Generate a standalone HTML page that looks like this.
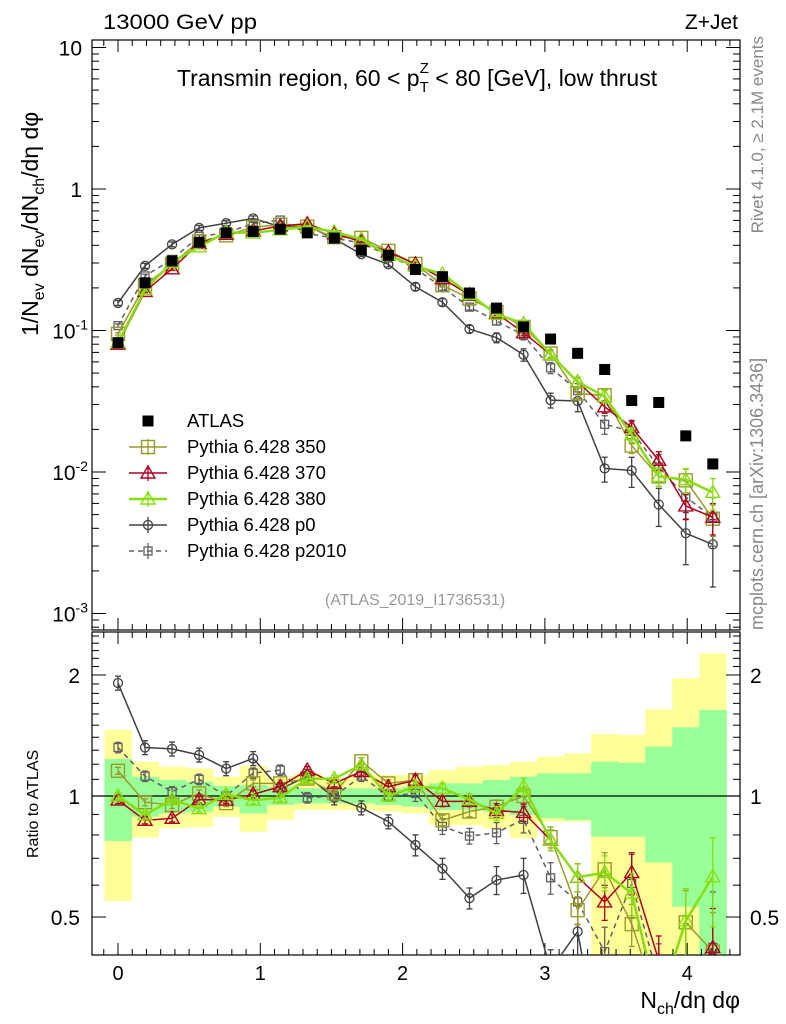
<!DOCTYPE html>
<html><head><meta charset="utf-8"><style>
html,body{margin:0;padding:0;background:#fff;width:786px;height:1024px;overflow:hidden;position:relative;}
svg{display:block;font-family:"Liberation Sans",sans-serif;}
</style></head><body>
<svg id="c" width="786" height="1024" viewBox="0 0 786 1024" xmlns="http://www.w3.org/2000/svg" style="position:absolute;left:0;top:0"></svg>
<script>
// ---- data ----
const xCats = [0,0.19,0.38,0.57,0.76,0.95,1.14,1.33,1.52,1.71,1.9,2.09,2.28,2.47,2.66,2.85,3.04,3.23,3.42,3.61,3.8,3.99,4.18];
const atlasVals = [0.082,0.217,0.31,0.42,0.49,0.5,0.52,0.49,0.45,0.37,0.34,0.27,0.24,0.184,0.144,0.106,0.087,0.069,0.053,0.032,0.031,0.018,0.0114];
const ratio350 = [1.155,0.965,0.95,1.015,0.96,1.075,1.075,1.105,1.015,1.22,1.075,1.095,0.87,0.915,0.94,1.0,0.79,0.52,0.657,0.48,0.30,0.485,0.41];
const ratio370 = [0.977,0.87,0.88,0.98,0.977,1.01,1.055,1.16,1.075,1.15,1.055,1.095,0.97,0.97,0.92,0.91,0.777,0.628,0.545,0.645,0.39,0.32,0.42];
const ratio380 = [1.0,0.897,0.98,0.93,1.01,0.977,0.99,1.105,1.105,1.195,1.0,1.055,1.045,0.98,0.905,1.055,0.777,0.628,0.645,0.573,0.30,0.49,0.63];
const ratioP0 = [1.91,1.32,1.31,1.265,1.17,1.24,1.04,1.12,0.99,0.935,0.863,0.755,0.66,0.557,0.618,0.636,0.37,0.46,0.2,0.32,0.19,0.205,0.27];
const ratioP2010 = [1.32,1.12,1.025,1.10,1.0,1.14,1.16,0.99,1.0,1.12,1.0,1.015,0.84,0.795,0.81,0.875,0.626,0.545,0.41,0.606,0.35,0.37,0.42];
const relErr = [0.02,0.02,0.02,0.02,0.02,0.02,0.02,0.02,0.02,0.02,0.02,0.03,0.03,0.03,0.04,0.05,0.06,0.08,0.1,0.12,0.15,0.2,0.25];
const yellowHi = [1.46,1.217,1.183,1.172,1.117,1.188,1.117,1.139,1.107,1.128,1.128,1.128,1.16,1.183,1.194,1.217,1.252,1.277,1.427,1.419,1.643,1.963,2.264];
const yellowLo = [0.548,0.788,0.831,0.836,0.888,0.815,0.872,0.923,0.923,0.923,0.914,0.905,0.847,0.847,0.831,0.785,0.863,0.863,0.3,0.3,0.3,0.3,0.3];
const greenHi = [1.236,1.117,1.096,1.085,1.059,1.065,1.055,1.045,1.045,1.045,1.045,1.055,1.075,1.075,1.096,1.117,1.139,1.139,1.217,1.21,1.327,1.482,1.637];
const greenLo = [0.773,0.888,0.905,0.914,0.941,0.905,0.95,0.959,0.959,0.959,0.95,0.941,0.923,0.923,0.914,0.897,0.88,0.872,0.792,0.792,0.683,0.53,0.3];
const mainTicks = [10,1,0.1,0.01,0.001];
const mainTickLabels = ["10","1","10^-1","10^-2","10^-3"];
const xTicks = [0,1,2,3,4];
const ratioTicks = [2,1,0.5];

// ---- geometry ----
const L=92,R=740,MT=40,MB=630,RT=632,RB=955;
const X0=118,XS=142.3;
function sx(v){return X0+XS*v;}
function sy(v){return 189-141.5*Math.log10(v);}
function ry(v){return 796-402*Math.log10(v);}
const svg=document.getElementById('c');
const NS="http://www.w3.org/2000/svg";
function el(tag,attrs,parent){const e=document.createElementNS(NS,tag);for(const k in attrs)e.setAttribute(k,attrs[k]);(parent||svg).appendChild(e);return e;}

const defs=el('defs',{});
const c1=el('clipPath',{id:'cm'},defs);el('rect',{x:L,y:MT,width:R-L,height:MB-MT},c1);
const c2=el('clipPath',{id:'cr'},defs);el('rect',{x:L,y:RT,width:R-L,height:RB-RT},c2);

const bandG=el('g',{'clip-path':'url(#cr)'});


const hw=0.095;
xCats.forEach((x,i)=>{
  const y1=el('rect',{x:sx(x-hw),y:ry(yellowHi[i]),width:XS*2*hw+0.5,height:ry(yellowLo[i])-ry(yellowHi[i]),fill:'#ffff99'},bandG);
  
  
});
xCats.forEach((x,i)=>{
  const g1=el('rect',{x:sx(x-hw),y:ry(greenHi[i]),width:XS*2*hw+0.5,height:ry(greenLo[i])-ry(greenHi[i]),fill:'#99ff99'},bandG);
  
  
});
el('line',{x1:L,x2:R,y1:ry(1),y2:ry(1),stroke:'#000','stroke-width':1.2});

const f1=el('rect',{x:L,y:MT,width:R-L,height:MB-MT,fill:'none',stroke:'#000','stroke-width':1.2});


const f2=el('rect',{x:L,y:RT,width:R-L,height:RB-RT,fill:'none',stroke:'#000','stroke-width':1.2});



for(let k=-1;k<=43;k++){
  const v=k/10; if(sx(v)<L||sx(v)>R) continue;
  const major=(k%10===0); const len=major?12:6;
  [[MB,-1],[MT,1],[RB,-1],[RT,1]].forEach(([y,d])=>{
    el('line',{x1:sx(v),x2:sx(v),y1:y,y2:y+d*len,stroke:'#000','stroke-width':1});
  });
}
xTicks.forEach(v=>{
  const t=el('text',{x:sx(v),y:980,'font-size':20,'text-anchor':'middle'});t.textContent=String(v);
  
  
});
for(let e=-4;e<=1;e++){
  for(let m=1;m<10;m++){
    const v=m*Math.pow(10,e); const y=sy(v); if(y<MT||y>MB) continue;
    const len=m===1?14:7;
    el('line',{x1:L,x2:L+len,y1:y,y2:y,stroke:'#000'});
    el('line',{x1:R,x2:R-len,y1:y,y2:y,stroke:'#000'});
  }
}
mainTicks.forEach((v,i)=>{
  const lab=mainTickLabels[i];
  const t=el('text',{x:82,y:sy(v)+8,'font-size':21,'text-anchor':'end'});
  
  
  if(lab.indexOf('^')>=0){const p=lab.split('^');t.textContent=p[0];const s=el('tspan',{dy:-9,'font-size':14},t);s.textContent=p[1];t.setAttribute('x',88);}
  else t.textContent=lab;
});
for(let v=0.4;v<=2.6;v+=0.1){
  const y=ry(v); if(y<RT||y>RB) continue;
  const major=[0.5,1,2].some(q=>Math.abs(q-v)<0.001);
  const len=major?14:7;
  el('line',{x1:L,x2:L+len,y1:y,y2:y,stroke:'#000'});
  el('line',{x1:R,x2:R-len,y1:y,y2:y,stroke:'#000'});
}
ratioTicks.forEach(v=>{
  const t=el('text',{x:80,y:ry(v)+8,'font-size':21,'text-anchor':'end'});t.textContent=String(v);
  
  
  const t2=el('text',{x:750,y:ry(v)+8,'font-size':21,'text-anchor':'start'});t2.textContent=String(v);
  
  
});

const series=[
  {name:'p0',ratio:ratioP0,color:'#404040',w:1.5,dash:null,marker:'circle',errMul:2},
  {name:'p2010',ratio:ratioP2010,color:'#606060',w:1.5,dash:'5,4',marker:'square-small',errMul:1.5},
  {name:'350',ratio:ratio350,color:'#9a9a28',w:1.5,dash:null,marker:'square',errMul:1},
  {name:'370',ratio:ratio370,color:'#b0001e',w:1.5,dash:null,marker:'triangle',errMul:1},
  {name:'380',ratio:ratio380,color:'#88dd11',w:2.5,dash:null,marker:'triangle',errMul:1},
];
function marker(g,type,x,y,c){
  let m;
  if(type==='circle') m=el('circle',{cx:x,cy:y,r:4.5,fill:'none',stroke:c,'stroke-width':1.3},g);
  else if(type==='square-small') m=el('rect',{x:x-4,y:y-4,width:8,height:8,fill:'none',stroke:c,'stroke-width':1.3},g);
  else if(type==='square') m=el('rect',{x:x-6.5,y:y-6.5,width:13,height:13,fill:'none',stroke:c,'stroke-width':1.4},g);
  else if(type==='triangle') m=el('path',{d:`M${x},${y-7} L${x+7},${y+5} L${x-7},${y+5} Z`,fill:'none',stroke:c,'stroke-width':1.4},g);
  else if(type==='filled') m=el('rect',{x:x-5.5,y:y-5.5,width:11,height:11,fill:'#000'},g);
  return m;
}
function drawSeries(panel,s){
  const clip=panel==='main'?'url(#cm)':'url(#cr)';
  const g=el('g',{'clip-path':clip});
  
  
  const pts=xCats.map((x,i)=>{
    const v=panel==='main'?atlasVals[i]*s.ratio[i]:s.ratio[i];
    return [sx(x),panel==='main'?sy(v):ry(v),v];
  });
  const pl=el('polyline',{points:pts.map(p=>p[0]+','+p[1]).join(' '),fill:'none',stroke:s.color,'stroke-width':s.w},g);
  if(s.dash) pl.setAttribute('stroke-dasharray',s.dash);
  pts.forEach((p,i)=>{
    const e=relErr[i]*s.errMul; const v=p[2];
    const f=panel==='main'?sy:ry;
    const ya=f(v*(1+e)),yb=f(Math.max(v*(1-e),1e-6));
    el('line',{x1:p[0],x2:p[0],y1:ya,y2:yb,stroke:s.color,'stroke-width':1.3},g);
    el('line',{x1:p[0]-3,x2:p[0]+3,y1:ya,y2:ya,stroke:s.color,'stroke-width':1.3},g);
    el('line',{x1:p[0]-3,x2:p[0]+3,y1:yb,y2:yb,stroke:s.color,'stroke-width':1.3},g);
    const m=marker(g,s.marker,p[0],p[1],s.color);
    
    
  });
}
series.forEach(s=>drawSeries('main',s));
series.forEach(s=>drawSeries('ratio',s));
const ag=el('g',{'clip-path':'url(#cm)'});


xCats.forEach((x,i)=>{
  const m=marker(ag,'filled',sx(x),sy(atlasVals[i]),'#000');
  
  
});

const legend=[
  {label:'ATLAS',type:'filled',color:'#000'},
  {label:'Pythia 6.428 350',type:'square',color:'#9a9a28',w:1.5},
  {label:'Pythia 6.428 370',type:'triangle',color:'#b0001e',w:1.5},
  {label:'Pythia 6.428 380',type:'triangle',color:'#88dd11',w:2.5},
  {label:'Pythia 6.428 p0',type:'circle',color:'#404040',w:1.5},
  {label:'Pythia 6.428 p2010',type:'square-small',color:'#606060',w:1.5,dash:'5,4'},
];
legend.forEach((l,i)=>{
  const y=421+26*i;
  const g=el('g',{});
  
  
  if(l.type!=='filled'){
    const ln=el('line',{x1:129,x2:167,y1:y,y2:y,stroke:l.color,'stroke-width':l.w},g);
    if(l.dash) ln.setAttribute('stroke-dasharray',l.dash);
    el('line',{x1:148,x2:148,y1:y-8,y2:y+8,stroke:l.color,'stroke-width':1.3},g);
  }
  marker(g,l.type,148,y,l.color);
  const t=el('text',{x:187,y:y+6,'font-size':18.5},g);t.textContent=l.label;
});
</script>
<svg width="786" height="1024" style="position:absolute;left:0;top:0" xmlns="http://www.w3.org/2000/svg" font-family="Liberation Sans, sans-serif">
<text x="103" y="29" font-size="21" textLength="154" lengthAdjust="spacingAndGlyphs">13000 GeV pp</text>
<text x="738" y="29" font-size="21" text-anchor="end">Z+Jet</text>
<text x="417" y="86" font-size="23" text-anchor="middle">Transmin region, 60 &lt; p<tspan font-size="15" dy="6">T</tspan><tspan font-size="15" dx="-9" dy="-19">Z</tspan><tspan dy="13"> &lt; 80 [GeV], low thrust</tspan></text>
<text x="415" y="605" font-size="16" fill="#999" text-anchor="middle">(ATLAS_2019_I1736531)</text>
<text transform="translate(763,36) rotate(-90)" font-size="17" fill="#888" text-anchor="end">Rivet 4.1.0, ≥ 2.1M events</text>
<text transform="translate(763,630) rotate(-90)" font-size="18" fill="#888" text-anchor="start">mcplots.cern.ch [arXiv:1306.3436]</text>
<text transform="translate(38,336) rotate(-90)" font-size="23">1/N<tspan font-size="16" dy="6">ev</tspan><tspan dy="-6"> dN</tspan><tspan font-size="16" dy="6">ev</tspan><tspan dy="-6">/dN</tspan><tspan font-size="16" dy="6">ch</tspan><tspan dy="-6">/dη dφ</tspan></text>
<text transform="translate(38,858) rotate(-90)" font-size="16">Ratio to ATLAS</text>
<text x="740" y="1008" font-size="23" text-anchor="end">N<tspan font-size="16" dy="6">ch</tspan><tspan dy="-6">/dη dφ</tspan></text>
</svg>
</body></html>
